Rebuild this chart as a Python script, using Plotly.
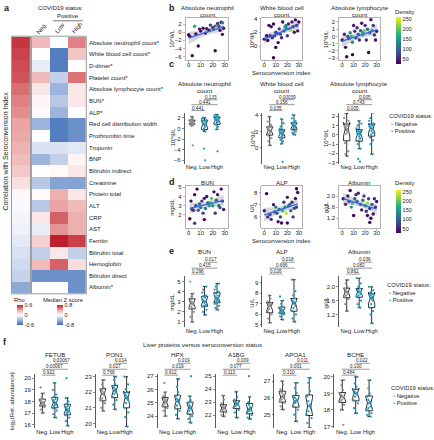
import numpy as np
import plotly.graph_objects as go

W, H = 434, 440
FONT = "Liberation Sans, Arial, sans-serif"
TXT = "#222222"
NEG_COL = "#8f8f8f"
POS_COL = "#1e9bc7"

# ---------------- panel a data ----------------
heat_rows = ["Absolute neutrophil count*", "White blood cell count*", "D-dimer*", "Platelet count*",
             "Absolute lymphocyte count*", "BUN*", "ALP*", "Red cell distribution width",
             "Prothrombin time", "Troponin", "BNP", "Bilirubin indirect", "Creatinine",
             "Protein total", "ALT", "CRP", "AST", "Ferritin", "Bilirubin total", "Hemoglobin",
             "Bilirubin direct", "Albumin*"]
rho_values = [0.55, 0.52, 0.50, 0.48, 0.42, 0.38, 0.35, 0.30, 0.28, 0.25, 0.22, 0.18, 0.10,
              0.02, -0.02, -0.04, -0.05, -0.08, -0.12, -0.15, -0.18, -0.35]
z_neg = [0.30, 0.00, -0.10, 0.30, 0.10, 0.05, 0.02, -0.40, 0.00, -0.15, -0.40, 0.00, -0.30,
         0.02, -0.30, 0.10, -0.10, 0.20, -0.25, 0.30, -0.60, 0.00]
z_low = [0.00, -0.70, -0.70, -0.25, -0.40, -0.30, -0.40, -0.70, -0.70, -0.15, -0.25, 0.02, -0.50,
         0.35, 0.40, 0.60, 0.45, 0.80, 0.10, 0.60, -0.60, 0.00]
z_high = [0.50, 0.25, 0.00, 0.55, 0.10, 0.10, 0.00, -0.60, -0.60, -0.12, 0.05, 0.10, -0.50,
          0.10, 0.30, 0.35, 0.35, 0.70, -0.25, 0.15, -0.60, -0.60]
heat_cols = ["Neg.", "Low", "High"]
group_labels = ["Neg.", "Low", "High"]

# ---------------- panel b data (x = seroconversion index) ----------------
b_anc_x = [0, 1, 3, 5, 6, 8, 9, 12, 14, 17, 18, 20, 21, 22, 23, 24, 25, 26, 27, 28, 29, 22, 28, 10, 15]
b_anc_y = [-0.6, -1.0, -5.8, 1.5, -0.4, -3.4, 0.8, 1.0, -0.2, 0.5, 1.8, 1.2, 0.8, 1.5, 1.0, 2.2, 1.5,
           0.5, 2.5, 2.4, 1.0, -4.6, -0.5, 0.3, 0.9]
b_anc_d = [30, 30, 20, 170, 30, 20, 40, 30, 30, 40, 60, 60, 80, 100, 240, 60, 90, 40, 40, 130, 40, 20,
           30, 30, 40]
b_wbc_x = [0, 2, 3, 4, 5, 6, 7, 8, 8, 9, 10, 10, 11, 12, 13, 14, 15, 16, 17, 18, 19, 19, 20, 21, 22,
           23, 24, 25, 26, 27, 28, 29, 30]
b_wbc_y = [1.0, 1.5, 0.8, 3.0, 1.5, 2.8, 1.2, -1.7, 3.2, 1.5, 2.0, -0.2, 1.8, 0.5, 2.5, 1.7, 1.2, 3.5,
           2.2, 2.8, 3.0, 2.6, 1.5, 3.2, 2.5, 2.3, 3.5, 2.8, 2.0, 3.8, 3.0, 2.2, 3.5]
b_wbc_d = [30, 40, 30, 30, 60, 40, 60, 20, 30, 80, 70, 20, 80, 30, 60, 90, 50, 30, 80, 140, 130, 150,
           60, 50, 90, 230, 40, 60, 40, 30, 50, 40, 30]
b_alc_x = [0, 2, 3, 4, 5, 6, 7, 8, 9, 9, 10, 11, 12, 13, 14, 15, 16, 17, 18, 18, 19, 20, 21, 22, 23,
           24, 25, 26, 27, 28, 29, 30]
b_alc_y = [-0.5, 0.3, -1.5, -2.8, 0.0, -0.3, 0.5, 0.0, -2.5, -0.8, 1.5, 0.7, -0.2, 1.2, 0.3, -0.5, 0.8,
           1.8, 0.2, 0.5, 0.8, 1.5, -0.5, 1.0, -2.2, 0.5, 2.3, 0.8, 1.5, 0.2, -0.5, 0.7]
b_alc_d = [30, 50, 30, 20, 80, 90, 140, 180, 20, 130, 40, 60, 80, 50, 100, 60, 90, 40, 190, 150, 210,
           60, 50, 100, 20, 120, 40, 150, 60, 60, 30, 40]

# ---------------- panel c data ----------------
c_anc = [[2.2, 1.9, 1.6, 1.5, 1.3, 1.2, 1.1, 1.0, 0.9, 0.7, 0.5, -3.2],
         [2.0, 1.8, 1.6, 1.3, 1.1, 0.9, 0.6, 0.3, 0.0, -0.3, -0.6, 1.5, 0.8, -3.8, -6.0],
         [2.6, 2.4, 2.2, 2.0, 1.8, 1.6, 1.4, 1.2, 1.0, 0.7, 0.3, -0.2, -4.3, 2.1, 1.7]]
c_wbc = [[3.8, 3.2, 2.8, 2.6, 2.4, 2.2, 2.0, 1.9, 1.7, 1.5, 1.2, 0.8, 0.3, 2.5, 2.1],
         [3.5, 3.0, 2.6, 2.3, 2.1, 2.0, 1.9, 1.8, 1.6, 1.5, 1.3, 1.0, 0.8, 0.5, -1.7, 2.2, 1.7],
         [4.0, 3.6, 3.3, 3.0, 2.8, 2.7, 2.6, 2.5, 2.4, 2.2, 2.0, 1.8, 1.6, 3.1, 2.9]]
c_alc = [[2.3, 1.8, 1.5, 1.2, 1.0, 0.8, 0.6, 0.4, 0.3, 0.1, -0.9, -1.8, -2.1, -2.3, 0.9],
         [1.5, 1.2, 1.0, 0.7, 0.5, 0.3, 0.1, 0.0, -0.2, -0.4, -0.6, -1.0, -1.5, -2.6, -2.9, 0.4, 0.2],
         [2.4, 1.8, 1.5, 1.2, 1.0, 0.9, 0.8, 0.6, 0.4, 0.2, 0.0, -0.3, -0.6, -1.0, -2.1, 1.1]]
c_pvals = {"anc": ["0.441", "0.441", "0.133"], "wbc": ["0.035", "0.156", "0.00039"],
           "alc": ["0.005", "0.743", "0.005"]}

# ---------------- panel d data ----------------
d_bun_x = [1, 2, 3, 4, 5, 5, 6, 7, 8, 9, 10, 11, 12, 13, 13, 14, 15, 16, 17, 18, 19, 20, 21, 22, 23,
           24, 25, 26, 27, 28, 29]
d_bun_y = [1.6, 3.5, 2.6, 2.5, 4.2, 1.1, 3.0, 4.8, 2.5, 3.2, 2.8, 3.5, 2.2, 3.8, 1.5, 2.7, 4.0, 3.3,
           3.0, 3.3, 3.8, 3.0, 4.5, 2.2, 3.6, 4.2, 3.0, 2.8, 4.8, 3.5, 2.6]
d_bun_d = [20, 30, 50, 60, 30, 70, 80, 20, 90, 100, 110, 60, 70, 40, 20, 120, 40, 90, 150, 190, 200,
           140, 40, 60, 100, 40, 110, 80, 30, 60, 40]
d_alp_x = [0, 2, 3, 5, 6, 8, 9, 10, 11, 12, 13, 14, 15, 16, 17, 18, 19, 20, 21, 22, 23, 24, 25, 26, 27,
           28, 29, 28, 20]
d_alp_y = [6.5, 7.9, 6.0, 6.2, 5.8, 7.0, 6.4, 6.8, 6.3, 5.6, 6.6, 6.0, 5.5, 6.5, 7.2, 6.8, 6.3, 7.6,
           6.9, 7.0, 6.5, 7.2, 6.0, 6.7, 7.5, 8.3, 8.0, 6.8, 5.5]
d_alp_d = [40, 20, 60, 80, 50, 40, 100, 120, 90, 40, 110, 70, 30, 180, 60, 140, 240, 40, 130, 90, 110,
           60, 70, 80, 40, 20, 30, 70, 30]
d_alb_x = [1, 3, 5, 6, 7, 8, 9, 10, 11, 12, 13, 14, 16, 17, 18, 19, 20, 21, 22, 23, 24, 25, 26, 27, 28,
           29, 24, 22, 30]
d_alb_y = [1.9, 1.7, 2.0, 1.8, 2.2, 1.6, 1.75, 1.3, 1.9, 2.05, 1.8, 2.1, 1.7, 1.5, 1.85, 2.0, 1.65,
           1.45, 1.75, 1.9, 1.55, 1.2, 1.7, 1.35, 1.9, 1.6, 1.05, 1.3, 1.8]
d_alb_d = [30, 50, 40, 80, 30, 140, 180, 20, 90, 60, 100, 50, 90, 40, 110, 70, 150, 60, 230, 80, 70,
           30, 90, 30, 50, 60, 20, 30, 40]

# ---------------- panel e data ----------------
e_bun = [[5.0, 3.8, 3.5, 3.2, 3.0, 2.9, 2.7, 2.5, 2.3, 2.0, 1.5, 1.0, 3.3, 2.8],
         [4.5, 4.2, 3.9, 3.6, 3.4, 3.2, 3.0, 2.9, 2.7, 2.5, 2.2, 2.0, 1.7, 3.1, 2.6, 3.5],
         [4.8, 4.5, 4.2, 4.0, 3.8, 3.6, 3.4, 3.3, 3.2, 3.0, 2.8, 2.6, 2.4, 2.2, 3.5, 3.1]]
e_alp = [[7.8, 7.5, 7.2, 7.0, 6.9, 6.7, 6.5, 6.3, 6.0, 5.6, 5.2, 6.8],
         [7.7, 7.3, 7.0, 6.7, 6.5, 6.4, 6.3, 6.2, 6.1, 6.0, 5.8, 5.5, 6.6, 6.2],
         [9.3, 8.2, 7.8, 7.5, 7.3, 7.1, 7.0, 6.8, 6.6, 6.3, 6.0, 5.6, 5.3, 7.2]]
e_alb = [[2.2, 2.1, 2.0, 1.95, 1.9, 1.85, 1.8, 1.75, 1.7, 1.65, 1.5, 1.3, 1.85],
         [2.25, 2.1, 2.0, 1.95, 1.9, 1.85, 1.8, 1.75, 1.7, 1.6, 1.5, 1.4, 1.85, 1.9],
         [2.0, 1.9, 1.85, 1.8, 1.75, 1.7, 1.65, 1.6, 1.5, 1.4, 1.3, 1.2, 0.95, 1.75]]
e_pvals = {"bun": ["0.298", "0.415", "0.017"], "alp": ["0.026", "0.666", "0.018"],
           "alb": ["0.862", "0.082", "0.036"]}

# ---------------- panel f data ----------------
f_names = ["FETUB", "PON1", "HPX", "A1BG", "APOA1", "BCHE"]
f_fetub = [[19.2, 18.7, 18.4, 18.2, 18.0, 17.9, 17.8, 17.8, 17.7, 17.6, 17.5, 17.3, 17.0, 18.1],
           [19.6, 19.0, 18.6, 18.4, 18.2, 18.0, 17.9, 17.8, 17.6, 17.4, 17.2, 16.9, 16.6, 18.1, 17.7],
           [20.0, 18.3, 18.0, 17.8, 17.6, 17.4, 17.3, 17.2, 17.0, 16.8, 16.6, 16.3, 15.9, 17.5, 17.1]]
f_pon1 = [[22.8, 22.5, 22.3, 22.1, 22.0, 21.9, 21.8, 21.6, 21.5, 21.3, 21.0, 20.8, 22.2],
          [23.0, 22.8, 22.5, 22.3, 22.2, 22.1, 22.0, 21.9, 21.7, 21.5, 21.2, 20.9, 22.4],
          [23.0, 22.5, 22.2, 22.0, 21.9, 21.7, 21.6, 21.5, 21.3, 21.0, 20.7, 20.4, 19.8, 21.8]]
f_hpx = [[26.5, 25.8, 25.5, 25.3, 25.2, 25.0, 24.9, 24.8, 24.6, 24.4, 24.0, 25.1],
         [26.8, 26.2, 25.8, 25.5, 25.3, 25.1, 25.0, 24.8, 24.6, 24.4, 24.1, 23.8, 25.2],
         [27.0, 25.5, 25.2, 25.0, 24.8, 24.7, 24.5, 24.4, 24.2, 24.0, 23.8, 23.5, 24.6]]
f_a1bg = [[23.5, 23.2, 22.9, 22.7, 22.6, 22.5, 22.4, 22.3, 22.2, 22.0, 21.9, 22.6],
          [23.8, 23.4, 23.2, 23.0, 22.9, 22.8, 22.7, 22.6, 22.4, 22.2, 21.8, 22.9],
          [25.0, 23.4, 23.0, 22.8, 22.6, 22.4, 22.3, 22.2, 22.0, 21.8, 21.7, 22.5]]
f_apoa1 = [[27.0, 26.8, 26.5, 26.3, 26.2, 26.0, 25.9, 25.8, 25.7, 25.5, 25.3, 26.1],
           [26.9, 26.6, 26.3, 26.1, 26.0, 25.9, 25.8, 25.7, 25.5, 25.3, 25.0, 24.6, 25.8],
           [27.2, 26.9, 26.4, 26.1, 25.8, 25.6, 25.4, 25.2, 25.0, 24.8, 24.5, 24.2, 25.5]]
f_bche = [[19.8, 19.5, 19.2, 19.0, 18.9, 18.8, 18.7, 18.6, 18.5, 18.3, 18.0, 17.1, 18.8],
          [20.0, 19.6, 19.4, 19.2, 19.1, 19.0, 18.9, 18.8, 18.6, 18.4, 18.1, 17.8, 19.0],
          [19.8, 19.3, 19.0, 18.8, 18.6, 18.4, 18.2, 18.0, 17.8, 17.7, 17.6, 18.5, 18.1]]
f_pvals = [["0.922", "0.00067", "0.00067"], ["0.768", "0.027", "0.014"], ["0.912", "0.019", "0.019"],
           ["0.113", "0.077", "0.009"], ["0.310", "0.001", "0.011"], ["0.484", "0.100", "0.022"]]

# ======================================================================
fig = go.Figure()
layout = dict(width=W, height=H, margin=dict(l=0, r=0, t=0, b=0), paper_bgcolor="white",
              plot_bgcolor="white", font=dict(family=FONT, size=6, color=TXT), showlegend=False)
annotations = []
shapes = []
axn = [0]


def add_axes(x0, x1, y0, y1, xkw, ykw):
    axn[0] += 1
    n = axn[0]
    s = "" if n == 1 else str(n)
    layout["xaxis" + s] = dict(domain=[x0 / W, x1 / W], anchor="y" + s, **xkw)
    layout["yaxis" + s] = dict(domain=[1 - y1 / H, 1 - y0 / H], anchor="x" + s, **ykw)
    return "x" + s, "y" + s


def txt(x, y, text, size=6, xanchor="center", yanchor="middle", angle=0, color=TXT):
    annotations.append(dict(x=x / W, y=1 - y / H, xref="paper", yref="paper", text=text,
                            showarrow=False, xanchor=xanchor, yanchor=yanchor, textangle=angle,
                            font=dict(size=size, family=FONT, color=color), borderpad=0))


# ---------------- panel a ----------------
RB = [[0, "#3a6cb6"], [0.25, "#9db5dc"], [0.5, "#ffffff"], [0.75, "#eba3a3"], [1, "#bf1f2c"]]
xa, ya = add_axes(12, 30, 35, 294, dict(visible=False, range=[-0.5, 0.5]),
                  dict(visible=False, autorange="reversed", type="category"))
fig.add_trace(go.Heatmap(z=[[v] for v in rho_values], x=[0], y=heat_rows, coloraxis="coloraxis3",
                         xaxis=xa, yaxis=ya, hoverinfo="skip"))
xa, ya = add_axes(32, 86, 35, 294, dict(visible=False, range=[-0.5, 2.5]),
                  dict(visible=False, autorange="reversed", type="category"))
fig.add_trace(go.Heatmap(z=[[a, b, c] for a, b, c in zip(z_neg, z_low, z_high)], x=[0, 1, 2],
                         y=heat_rows, coloraxis="coloraxis4", xaxis=xa, yaxis=ya, hoverinfo="skip"))
for i, r in enumerate(heat_rows):
    annotations.append(dict(x=88 / W, xref="paper", y=r, yref=ya, text=r, showarrow=False,
                            xanchor="left", yanchor="middle", borderpad=0,
                            font=dict(size=6, family=FONT, color=TXT)))
shapes.append(dict(type="rect", xref="paper", yref="paper", x0=11.5 / W, x1=30.5 / W,
                   y0=1 - 294.5 / H, y1=1 - 34.5 / H, line=dict(color="#9a9a9a", width=1)))
shapes.append(dict(type="rect", xref="paper", yref="paper", x0=31.5 / W, x1=86.5 / W,
                   y0=1 - 294.5 / H, y1=1 - 34.5 / H, line=dict(color="#9a9a9a", width=1)))
txt(3, 6, "<b>a</b>", size=9, xanchor="left")
txt(61, 6, "COVID19 status:", size=6)
txt(68, 14, "Positive", size=6)
shapes.append(dict(type="line", xref="paper", yref="paper", x0=53 / W, x1=83 / W, y0=1 - 19 / H,
                   y1=1 - 19 / H, line=dict(color="#555", width=0.8)))
for cx, lab in zip([42, 60, 77], heat_cols):
    txt(cx, 26, lab, size=6, angle=-50)
txt(6, 150, "Correlation with Seroconversion Index", size=7, angle=-90)
txt(20, 301, "Rho", size=5.8)
txt(63, 301, "Median Z score", size=5.8)

cb_common = dict(lenmode="pixels", len=20, thicknessmode="pixels", thickness=6, xpad=0, ypad=0,
                 outlinewidth=0, ticks="", tickfont=dict(size=5.5, family=FONT, color=TXT),
                 xanchor="left", yanchor="top", y=1 - 306 / H)
layout["coloraxis3"] = dict(colorscale=RB, cmin=-0.6, cmax=0.6,
                            colorbar=dict(x=17 / W, tickvals=[-0.6, 0, 0.6], ticktext=["-0.6", "0", "0.6"],
                                          **cb_common))
layout["coloraxis4"] = dict(colorscale=RB, cmin=-0.8, cmax=0.8,
                            colorbar=dict(x=57 / W, tickvals=[-0.8, 0, 0.8], ticktext=["-0.8", "0", "0.8"],
                                          **cb_common))

# ---------------- helpers for b/d ----------------
SCAT_AX = dict(showline=True, mirror=True, linecolor="#a0a0a0", linewidth=0.8, ticks="outside",
               ticklen=2, tickcolor="#888", tickwidth=0.6, showgrid=False, zeroline=False,
               tickfont=dict(size=6, color=TXT), tickangle=0)


def fit_band(xs, ys):
    x = np.asarray(xs, float)
    y = np.asarray(ys, float)
    b1, b0 = np.polyfit(x, y, 1)
    xg = np.linspace(x.min(), x.max(), 40)
    yhat = b0 + b1 * xg
    n = len(x)
    res = y - (b0 + b1 * x)
    s = np.sqrt(np.sum(res ** 2) / (n - 2))
    se = s * np.sqrt(1 / n + (xg - x.mean()) ** 2 / np.sum((x - x.mean()) ** 2))
    return xg, yhat, yhat - 1.96 * se, yhat + 1.96 * se


def scatter_panel(x0, x1, y0, y1, xs, ys, ds, yrange, ytv, cax, ytf=None):
    ykw = dict(range=yrange, tickvals=ytv, **SCAT_AX)
    if ytf:
        ykw["tickformat"] = ytf
    xa, ya = add_axes(x0, x1, y0, y1, dict(range=[-2.5, 33], tickvals=[0, 10, 20, 30],
                                           ticklabelstandoff=-3, **SCAT_AX), ykw)
    xg, yh, lo, hi = fit_band(xs, ys)
    fig.add_trace(go.Scatter(x=np.concatenate([xg, xg[::-1]]), y=np.concatenate([hi, lo[::-1]]),
                             fill="toself", fillcolor="rgba(150,150,150,0.38)", line=dict(width=0),
                             mode="lines", xaxis=xa, yaxis=ya, hoverinfo="skip"))
    order = np.argsort(ds)
    fig.add_trace(go.Scatter(x=np.asarray(xs)[order], y=np.asarray(ys)[order], mode="markers",
                             marker=dict(color=np.asarray(ds)[order], coloraxis=cax, size=3.4,
                                         line=dict(width=0)), xaxis=xa, yaxis=ya, hoverinfo="skip"))
    fig.add_trace(go.Scatter(x=xg, y=yh, mode="lines", line=dict(color="#3366ee", width=1.3),
                             xaxis=xa, yaxis=ya, hoverinfo="skip"))


def box_panel(x0, x1, y0, y1, groups, yrange, ytv, pvals, py, ytf=None):
    ykw = dict(range=yrange, tickvals=ytv, showline=True, linecolor="#333", linewidth=0.8,
               ticks="outside", ticklen=2, tickwidth=0.6, tickcolor="#333", showgrid=False,
               zeroline=False, tickfont=dict(size=6, color=TXT))
    if ytf:
        ykw["tickformat"] = ytf
    xa, ya = add_axes(x0, x1, y0, y1,
                      dict(range=[-0.6, 2.6], tickvals=[0, 1, 2], ticktext=group_labels, showline=False,
                           ticks="", showgrid=False, zeroline=False, tickangle=0, ticklabelstandoff=-1,
                           tickfont=dict(size=5.9, color=TXT)),
                      ykw)
    for i, g in enumerate(groups):
        col = NEG_COL if i == 0 else POS_COL
        fig.add_trace(go.Box(y=g, x0=i, boxpoints="all", jitter=0.9, pointpos=0, notched=True,
                             width=0.5, line=dict(color="black", width=0.8),
                             fillcolor="rgba(0,0,0,0)", marker=dict(color=col, size=2.3),
                             xaxis=xa, yaxis=ya, hoverinfo="skip"))
    pairs = [(0, 1), (0, 2), (1, 2)]
    for (a, b), p, yy in zip(pairs, pvals, py):
        shapes.append(dict(type="line", xref=xa, yref="paper", x0=a - 0.05, x1=b + 0.05,
                           y0=1 - (yy + 2.6) / H, y1=1 - (yy + 2.6) / H,
                           line=dict(color="#555", width=0.6)))
        annotations.append(dict(x=(a + b) / 2, xref=xa, y=1 - yy / H, yref="paper", text=p,
                                showarrow=False, font=dict(size=4.6, family=FONT, color=TXT),
                                xanchor="center", yanchor="middle", borderpad=0))


def legend(x, y):
    txt(x, y, "COVID19 status:", size=5.8, xanchor="left")
    txt(x + 2, y + 8, "<span style='color:%s'>•</span> Negative" % NEG_COL, size=5.8, xanchor="left")
    txt(x + 2, y + 15, "<span style='color:%s'>•</span> Positive" % POS_COL, size=5.8, xanchor="left")


def two_line_title(cx, ytop, l1, l2):
    txt(cx, ytop, l1, size=6.2)
    txt(cx, ytop + 6.8, l2, size=6.2)


BX = [(186, 229), (262, 303), (340, 381)]
CX = [(185, 225), (263, 302), (340, 380)]
YT = [173, 253, 327]
titles3 = [("Absolute neutrophil", "count"), ("White blood cell", "count"),
           ("Absolute lymphocyte", "count")]

# ---------------- panel b ----------------
txt(168, 6, "<b>b</b>", size=9, xanchor="left")
scatter_panel(*BX[0], 16, 59, b_anc_x, b_anc_y, b_anc_d, [-7.0, 3.6], [2, 0, -2, -4, -6], "coloraxis")
scatter_panel(*BX[1], 16, 59, b_wbc_x, b_wbc_y, b_wbc_d, [-2.1, 4.1], [4, 2, 0], "coloraxis")
scatter_panel(*BX[2], 16, 59, b_alc_x, b_alc_y, b_alc_d, [-3.3, 2.55], [2, 1, 0, -1, -2, -3], "coloraxis")
for (a, b), (l1, l2) in zip(BX, titles3):
    two_line_title((a + b) / 2, 6, l1, l2)
for xx in YT:
    txt(xx, 37.5, "10^9/L", size=6, angle=-90)
txt(282, 71.5, "Seroconversion index", size=6.1)

dens_cb = dict(lenmode="pixels", thicknessmode="pixels", thickness=5, xpad=0, ypad=0, outlinewidth=0,
               ticks="", tickvals=[50, 100, 150, 200, 250], tickfont=dict(size=5.5, family=FONT, color=TXT),
               x=397 / W, xanchor="left", yanchor="top")
layout["coloraxis"] = dict(colorscale="Viridis", cmin=25, cmax=260,
                           colorbar=dict(y=1 - 15 / H, len=47, **dens_cb))
layout["coloraxis2"] = dict(colorscale="Viridis", cmin=25, cmax=260,
                            colorbar=dict(y=1 - 190 / H, len=43, **dens_cb))
txt(395, 10, "Density", size=5.8, xanchor="left")
txt(395, 183, "Density", size=5.8, xanchor="left")

# ---------------- panel c ----------------
txt(168, 63, "<b>c</b>", size=9, xanchor="left")
cpy = [107, 101, 96]
box_panel(*CX[0], 112, 163, c_anc, [-6.6, 2.9], [2, 0, -2, -4, -6], c_pvals["anc"], cpy)
box_panel(*CX[1], 112, 163, c_wbc, [-1.9, 4.25], [4, 2, 0], c_pvals["wbc"], cpy)
box_panel(*CX[2], 112, 163, c_alc, [-3.1, 2.35], [2, 1, 0, -1, -2, -3], c_pvals["alc"], cpy)
for (a, b), (l1, l2) in zip(CX, titles3):
    two_line_title((a + b) / 2, 82.5, l1, l2)
for xx in YT:
    txt(xx, 137, "10^9/L", size=6, angle=-90)
legend(389, 115)

# ---------------- panel d ----------------
txt(168, 182, "<b>d</b>", size=9, xanchor="left")
scatter_panel(*BX[0], 186, 228, d_bun_x, d_bun_y, d_bun_d, [0.6, 5.1], [2, 3, 4, 5], "coloraxis2")
scatter_panel(*BX[1], 186, 228, d_alp_x, d_alp_y, d_alp_d, [5.1, 8.5], [6, 7, 8], "coloraxis2")
scatter_panel(*BX[2], 186, 228, d_alb_x, d_alb_y, d_alb_d, [0.85, 2.35], [1.2, 1.6, 2.0], "coloraxis2",
              ytf=".1f")
for (a, b), t in zip(BX, ["BUN", "ALP", "Albumin"]):
    txt((a + b) / 2, 182, t, size=6.2)
for xx, u in zip(YT, ["mg/dL", "U/L", "g/dL"]):
    txt(xx, 207, u, size=6, angle=-90)
txt(282, 240.5, "Seroconversion index", size=6.1)

# ---------------- panel e ----------------
txt(168, 251, "<b>e</b>", size=9, xanchor="left")
epy = [272, 266, 260]
box_panel(*CX[0], 277, 328, e_bun, [0.5, 5.5], [1, 2, 3, 4, 5], e_pvals["bun"], epy)
box_panel(*CX[1], 277, 328, e_alp, [4.8, 9.6], [5, 6, 7, 8, 9], e_pvals["alp"], epy)
box_panel(*CX[2], 277, 328, e_alb, [0.84, 2.3], [1.2, 1.6, 2.0], e_pvals["alb"], epy, ytf=".1f")
for (a, b), t in zip(CX, ["BUN", "ALP", "Albumin"]):
    txt((a + b) / 2, 252, t, size=6.2)
for xx, u in zip(YT, ["mg/dL", "U/L", "g/dL"]):
    txt(xx, 303, u, size=6, angle=-90)
legend(387, 286)

# ---------------- panel f ----------------
txt(2, 343, "<b>f</b>", size=9, xanchor="left")
txt(203, 346, "Liver proteins versus seroconversion status", size=6.2)
FX = [(35, 75), (96, 134), (158, 198), (216, 258), (275, 318), (335, 378)]
f_groups = [f_fetub, f_pon1, f_hpx, f_a1bg, f_apoa1, f_bche]
f_ranges = [[15.7, 20.4], [19.7, 23.2], [23.1, 27.2], [21.0, 25.2], [24.2, 27.45], [16.9, 20.2]]
f_ticks = [[16, 17, 18, 19, 20], [20, 21, 22, 23], [24, 25, 26, 27], [22, 23, 24, 25], [25, 26, 27],
           [17, 18, 19, 20]]
fpy = [374, 368, 362]
for (a, b), g, r, tv, pv, nm in zip(FX, f_groups, f_ranges, f_ticks, f_pvals, f_names):
    box_panel(a, b, 375, 430, g, r, tv, pv, fpy)
    txt((a + b) / 2, 356, nm, size=6.2)
txt(12, 403, "log<sub>2</sub>(Rel. abundance)", size=6.2, angle=-90)
legend(391, 390)

layout["annotations"] = annotations
layout["shapes"] = shapes
fig.update_layout(**layout)
fig.write_html("out.html", config={"displayModeBar": False, "staticPlot": True},
               post_script="document.body.style.margin='0px';document.body.style.padding='0px';"
                           "document.documentElement.style.overflow='hidden';")
